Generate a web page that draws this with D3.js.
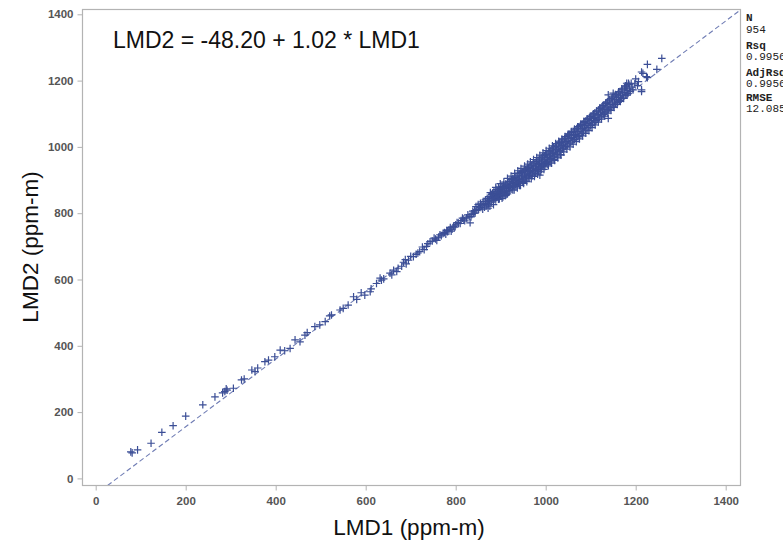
<!DOCTYPE html>
<html>
<head>
<meta charset="utf-8">
<script src="https://cdn.jsdelivr.net/npm/d3@7"></script>
<style>
  html, body { margin: 0; padding: 0; background: #fff; }
  svg { display: block; }
</style>
</head>
<body>
<svg id="chart" width="783" height="544"></svg>
<script>
// ---------------- data ----------------
const xTicks = [0, 200, 400, 600, 800, 1000, 1200, 1400];
const yTicks = [0, 200, 400, 600, 800, 1000, 1200, 1400];

const intercept = -48.20;
const slope = 1.02;
const equationText = "LMD2 = -48.20 + 1.02 * LMD1";
const xLabel = "LMD1 (ppm-m)";
const yLabel = "LMD2 (ppm-m)";

const statLabels = ["N", "Rsq", "AdjRsq", "RMSE"];
const statValues = ["954", "0.9956", "0.9956", "12.085"];

// [LMD1, LMD2] pairs
const lowRange = [
  [78, 80], [81, 77], [93, 86], [123, 106], [147, 139], [172, 159], [200, 188], [238, 222]
];
const midRange = [
  [265, 246], [282, 258], [287, 262], [290, 270], [292, 266], [306, 272], [324, 297], [330, 300],
  [347, 327], [354, 322], [360, 333], [376, 352], [384, 357], [398, 367], [410, 387], [420, 385],
  [432, 392], [443, 418], [454, 412], [465, 432], [470, 440], [487, 458], [498, 463], [510, 473],
  [520, 490], [524, 493], [543, 508], [550, 513], [561, 523], [573, 548], [580, 540], [590, 560],
  [598, 553], [610, 563], [612, 572], [624, 588], [632, 604], [635, 598], [640, 602], [654, 619],
  [658, 614], [662, 628], [669, 624], [672, 634], [680, 640], [684, 652], [688, 660], [690, 647],
  [695, 658], [700, 670], [706, 669], [712, 676], [716, 680], [720, 684], [726, 698], [730, 690],
  [735, 700], [738, 708], [743, 714], [748, 716], [752, 725], [755, 722], [758, 718], [762, 728],
  [765, 735], [768, 732], [772, 739], [775, 742], [778, 737], [780, 748], [782, 744], [785, 750],
  [788, 757], [790, 746], [792, 752], [795, 760], [798, 758], [800, 765], [803, 772], [806, 770],
  [810, 769], [812, 778], [815, 785], [818, 782], [820, 777], [824, 786], [827, 795], [830, 790],
  [832, 771], [834, 789], [836, 796], [838, 806], [840, 800], [843, 800]
];
const denseBand = [
  [842, 808], [845, 820], [847, 811], [850, 826], [851, 812], [853, 818], [855, 830], [856, 817],
  [858, 824], [860, 812], [861, 835], [863, 826], [864, 818], [866, 840], [867, 829], [869, 822],
  [870, 845], [871, 836], [873, 828], [874, 850], [875, 838], [876, 821], [878, 846], [879, 833],
  [880, 856], [881, 843], [882, 860], [883, 850], [884, 838], [885, 866], [886, 852], [887, 845],
  [888, 861], [889, 840], [890, 871], [891, 856], [892, 848], [893, 866], [894, 851], [895, 877],
  [896, 859], [897, 843], [898, 872], [899, 862], [900, 853], [901, 880], [902, 867], [903, 858],
  [904, 874], [905, 849], [906, 885], [907, 870], [908, 862], [909, 879], [910, 853], [911, 888],
  [912, 874], [913, 866], [914, 883], [915, 858], [916, 891], [917, 877], [918, 869], [919, 896],
  [920, 880], [921, 895], [922, 884], [923, 873], [924, 901], [925, 889], [926, 879], [927, 905],
  [928, 893], [929, 884], [930, 870], [931, 908], [932, 897], [933, 887], [934, 912], [935, 899],
  [936, 890], [937, 876], [938, 915], [939, 902], [940, 893], [941, 920], [942, 906], [943, 896],
  [944, 884], [945, 923], [946, 910], [947, 900], [948, 926], [949, 913], [950, 903], [951, 890],
  [952, 929], [953, 916], [954, 906], [955, 932], [956, 919], [957, 909], [958, 895], [959, 935],
  [960, 922], [961, 912], [962, 938], [963, 926], [964, 915], [965, 942], [966, 929], [967, 918],
  [968, 904], [969, 945], [970, 933], [971, 922], [972, 949], [973, 936], [974, 925], [975, 911],
  [976, 952], [977, 940], [978, 929], [979, 956], [980, 943], [981, 932], [982, 918], [983, 960],
  [984, 947], [985, 936], [986, 963], [987, 950], [987, 915], [988, 939], [989, 925], [990, 967],
  [991, 954], [992, 943], [993, 970], [994, 957], [995, 946], [996, 932], [997, 974], [998, 961],
  [999, 950], [1000, 977], [1001, 963], [1002, 952], [1003, 981], [1004, 968], [1005, 957], [1006, 943],
  [1007, 985], [1008, 972], [1009, 961], [1010, 989], [1011, 976], [1012, 965], [1013, 951], [1014, 993],
  [1015, 980], [1016, 969], [1017, 997], [1018, 984], [1019, 973], [1020, 959], [1021, 1001], [1022, 988],
  [1023, 977], [1024, 1005], [1025, 992], [1026, 981], [1027, 967], [1028, 1009], [1029, 996], [1030, 985],
  [1031, 1013], [1032, 1000], [1033, 989], [1034, 975], [1035, 1017], [1036, 1004], [1037, 993], [1038, 1021],
  [1039, 1008], [1040, 997]
];
const bandSpread = [
  [872, 815], [877, 862], [884, 826], [889, 878], [895, 842], [899, 889], [903, 845], [907, 894],
  [912, 856], [915, 905], [919, 864], [923, 912], [927, 870], [931, 920], [934, 880], [938, 928],
  [942, 884], [945, 935], [949, 893], [953, 942], [956, 900], [960, 948], [963, 906], [966, 955],
  [970, 913], [973, 962], [977, 920], [980, 968], [984, 927], [987, 975], [991, 933], [994, 982],
  [998, 940], [1001, 989], [1005, 947], [1008, 996], [1012, 955], [1015, 1003], [1019, 962], [1022, 1010],
  [1026, 970], [1029, 1017], [1033, 977], [1036, 1024], [1040, 985], [1043, 1031], [1047, 993], [1050, 1039],
  [1054, 1000], [1057, 1046], [1061, 1008], [1064, 1054], [1068, 1016], [1071, 1061], [1075, 1024], [1078, 1069],
  [1082, 1033], [1085, 1077], [1089, 1041], [1092, 1085], [1096, 1049], [1099, 1092], [1103, 1058], [1106, 1100],
  [1110, 1066], [1113, 1108], [1117, 1075], [1120, 1117], [1124, 1084], [1127, 1125], [1131, 1093], [1134, 1133],
  [1138, 1102], [1141, 1142], [1145, 1110], [1148, 1150], [1152, 1119], [1155, 1158], [1159, 1128], [1162, 1166],
  [1166, 1137], [1169, 1175], [1173, 1146], [1177, 1184], [1181, 1156], [1184, 1192]
];
const upperBand = [
  [1042, 1025], [1043, 1012], [1044, 1001], [1045, 1030], [1047, 1016], [1048, 1005], [1049, 1034], [1050, 1020],
  [1052, 1009], [1053, 1038], [1054, 1025], [1056, 1014], [1057, 1043], [1058, 1029], [1060, 1018], [1061, 1047],
  [1062, 1034], [1064, 1022], [1065, 1051], [1066, 1038], [1068, 1027], [1069, 1055], [1070, 1042], [1072, 1031],
  [1073, 1060], [1074, 1046], [1076, 1035], [1077, 1064], [1078, 1051], [1080, 1040], [1081, 1068], [1082, 1056],
  [1084, 1045], [1085, 1073], [1086, 1060], [1088, 1050], [1089, 1078], [1090, 1065], [1092, 1054], [1093, 1083],
  [1094, 1070], [1096, 1059], [1097, 1088], [1098, 1075], [1100, 1064], [1101, 1093], [1102, 1080], [1104, 1069],
  [1105, 1097], [1106, 1085], [1108, 1074], [1109, 1102], [1110, 1089], [1112, 1079], [1113, 1106], [1114, 1094],
  [1116, 1083], [1117, 1111], [1118, 1098], [1120, 1088], [1121, 1116], [1122, 1103], [1124, 1093], [1125, 1121],
  [1126, 1108], [1128, 1098], [1129, 1126], [1130, 1113], [1132, 1103], [1133, 1131], [1134, 1118], [1136, 1108],
  [1137, 1136], [1138, 1123], [1140, 1113], [1142, 1141], [1143, 1128], [1145, 1118], [1147, 1146], [1148, 1133],
  [1150, 1123], [1152, 1151], [1153, 1138], [1155, 1129], [1157, 1156], [1158, 1143], [1160, 1134], [1161, 1162],
  [1162, 1149], [1164, 1140], [1165, 1167], [1166, 1154], [1168, 1145], [1170, 1172], [1171, 1159], [1173, 1150],
  [1175, 1178], [1176, 1164], [1178, 1156], [1180, 1183], [1181, 1170], [1183, 1161], [1185, 1188], [1186, 1175],
  [1188, 1167], [1190, 1192], [1192, 1180], [1194, 1172]
];
const outliers = [
  [1258, 1267], [1226, 1249], [1247, 1234], [1213, 1226], [1216, 1222], [1224, 1212], [1226, 1209], [1206, 1197],
  [1213, 1172], [1213, 1167], [1139, 1157], [1150, 1162], [1139, 1086], [1180, 1192], [1200, 1205], [1198, 1190],
  [1204, 1185]
];

// ---------------- layout ----------------
const svg = d3.select("#chart");
const box = { left: 82, right: 740, top: 9, bottom: 485 };

const x = d3.scaleLinear().domain([0, 1400]).range([95.7, 725.7]);
const y = d3.scaleLinear().domain([0, 1400]).range([478.4, 14.3]);

const markColor = "#3b4e96";
const font = "'Liberation Sans', Arial, sans-serif";

// clip
svg.append("defs").append("clipPath").attr("id", "plotclip")
  .append("rect")
  .attr("x", box.left).attr("y", box.top)
  .attr("width", box.right - box.left).attr("height", box.bottom - box.top);

// frame
svg.append("rect")
  .attr("x", box.left + 0.5).attr("y", box.top + 0.5)
  .attr("width", box.right - box.left).attr("height", box.bottom - box.top)
  .attr("fill", "none").attr("stroke", "#b3b3b3").attr("stroke-width", 1.2);

// axes
const fmt = d3.format("d");
const xAxis = svg.append("g")
  .attr("transform", `translate(0,${box.bottom + 0.5})`)
  .call(d3.axisBottom(x).tickValues(xTicks).tickFormat(fmt).tickSize(5).tickSizeOuter(0).tickPadding(6));
const yAxis = svg.append("g")
  .attr("transform", `translate(${box.left + 0.5},0)`)
  .call(d3.axisLeft(y).tickValues(yTicks).tickFormat(fmt).tickSize(5).tickSizeOuter(0).tickPadding(4));

[xAxis, yAxis].forEach(g => {
  g.select(".domain").remove();
  g.selectAll(".tick line").attr("stroke", "#b3b3b3");
  g.selectAll(".tick text")
    .attr("fill", "#555")
    .style("font-family", font)
    .style("font-size", "11.5px")
    .style("font-weight", "bold");
});

// regression line
const plot = svg.append("g").attr("clip-path", "url(#plotclip)");
const xEnds = [x.invert(box.left), x.invert(box.right)];
plot.append("path")
  .datum(xEnds)
  .attr("d", d3.line().x(d => x(d)).y(d => y(intercept + slope * d)))
  .attr("fill", "none")
  .attr("stroke", "#6f7cb4")
  .attr("stroke-width", 1.1)
  .attr("stroke-dasharray", "5,3");

// markers
const allPoints = [].concat(lowRange, midRange, denseBand, bandSpread, upperBand, outliers);
const s = 3.8;
plot.selectAll("path.pt")
  .data(allPoints)
  .join("path")
  .attr("class", "pt")
  .attr("transform", d => `translate(${x(d[0])},${y(d[1])})`)
  .attr("d", `M${-s},0H${s}M0,${-s}V${s}`)
  .attr("fill", "none")
  .attr("stroke", markColor)
  .attr("stroke-width", 1.2);

// equation
svg.append("text")
  .attr("x", 113).attr("y", 48)
  .style("font-family", font).style("font-size", "23px")
  .attr("fill", "#111")
  .text(equationText);

// axis titles
svg.append("text")
  .attr("x", (box.left + box.right) / 2 - 2).attr("y", 535)
  .attr("text-anchor", "middle")
  .style("font-family", font).style("font-size", "22.5px")
  .attr("fill", "#111")
  .text(xLabel);

svg.append("text")
  .attr("transform", `translate(38,${(box.top + box.bottom) / 2}) rotate(-90)`)
  .attr("text-anchor", "middle")
  .style("font-family", font).style("font-size", "22.5px")
  .attr("fill", "#111")
  .text(yLabel);

// stats block
const statY = [[21, 33], [49, 60], [76, 87], [101, 112]];
const stats = svg.append("g").style("font-family", "'Liberation Mono', 'Courier New', monospace")
  .style("font-size", "11px").attr("fill", "#222");
statLabels.forEach((lab, i) => {
  stats.append("text").attr("x", 746).attr("y", statY[i][0]).style("font-weight", "bold").text(lab);
  stats.append("text").attr("x", 746).attr("y", statY[i][1]).text(statValues[i]);
});
</script>
</body>
</html>
